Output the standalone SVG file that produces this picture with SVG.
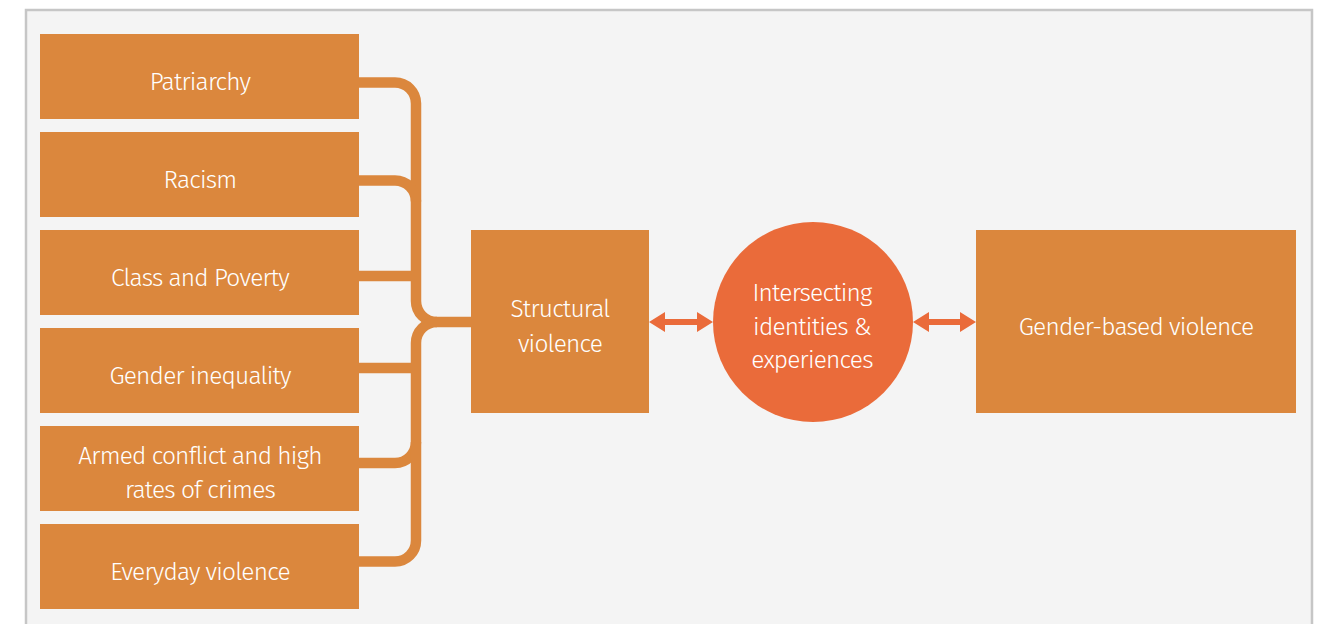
<svg xmlns="http://www.w3.org/2000/svg" width="1326" height="624" viewBox="0 0 1326 624">
  <defs>
    <style>
      .box { fill: #DB873D; }
      .hub { fill: #EA6B3A; }
      .lbl { fill: #FFFFFF; font-family: "Fira Sans", "Open Sans", "Liberation Sans", sans-serif; font-weight: 300; font-size: 24.5px; letter-spacing: -0.8px; text-anchor: middle; }
      .link { fill: none; stroke: #DB873D; stroke-width: 10.5; }
      .dbl { fill: #EA6B3A; }
    </style>
  </defs>

  <!-- page and panel frame -->
  <rect x="0" y="0" width="1326" height="624" fill="#FFFFFF"/>
  <rect x="26" y="10" width="1286" height="640" fill="#F4F4F4" stroke="#C6C6C6" stroke-width="2.5"/>

  <!-- bracket joining the causes into structural violence -->
  <g id="connectors">
    <path class="link" d="M359,82.5 H395 A21,21 0 0 1 416,103.5 V301 A21,21 0 0 0 437,322 H471"/>
    <path class="link" d="M359,180.5 H395 A21,21 0 0 1 416,201.5"/>
    <path class="link" d="M359,276 H416"/>
    <path class="link" d="M359,368 H416"/>
    <path class="link" d="M359,463 H395 A21,21 0 0 0 416,442"/>
    <path class="link" d="M359,561.5 H395 A21,21 0 0 0 416,540.5 V343 A21,21 0 0 1 437,322"/>
    <!-- double-headed arrows -->
    <polygon class="dbl" points="649,322 665,312 665,319 697,319 697,312 713,322 697,332 697,325 665,325 665,332"/>
    <polygon class="dbl" points="913,322 929,312 929,319 960,319 960,312 976,322 960,332 960,325 929,325 929,332"/>
  </g>

  <g id="patriarchy">
    <rect class="box" x="40" y="34" width="319" height="85"/>
    <text class="lbl" x="200" y="90">Patriarchy</text>
  </g>
  <g id="racism">
    <rect class="box" x="40" y="132" width="319" height="85"/>
    <text class="lbl" x="200" y="188">Racism</text>
  </g>
  <g id="class-poverty">
    <rect class="box" x="40" y="230" width="319" height="85"/>
    <text class="lbl" x="200" y="286">Class and Poverty</text>
  </g>
  <g id="gender-inequality">
    <rect class="box" x="40" y="328" width="319" height="85"/>
    <text class="lbl" x="200" y="384">Gender inequality</text>
  </g>
  <g id="armed-conflict">
    <rect class="box" x="40" y="426" width="319" height="85"/>
    <text class="lbl" x="200" y="464">Armed conflict and high</text>
    <text class="lbl" x="200" y="498">rates of crimes</text>
  </g>
  <g id="everyday-violence">
    <rect class="box" x="40" y="524" width="319" height="85"/>
    <text class="lbl" x="200" y="580">Everyday violence</text>
  </g>

  <g id="structural-violence">
    <rect class="box" x="471" y="230" width="178" height="183"/>
    <text class="lbl" x="560" y="317">Structural</text>
    <text class="lbl" x="560" y="352">violence</text>
  </g>

  <g id="intersecting">
    <circle class="hub" cx="813" cy="322" r="100"/>
    <text class="lbl" x="812" y="301">Intersecting</text>
    <text class="lbl" x="812" y="335">identities &amp;</text>
    <text class="lbl" x="812" y="368">experiences</text>
  </g>

  <g id="gender-based-violence">
    <rect class="box" x="976" y="230" width="320" height="183"/>
    <text class="lbl" x="1136" y="335">Gender-based violence</text>
  </g>
</svg>
